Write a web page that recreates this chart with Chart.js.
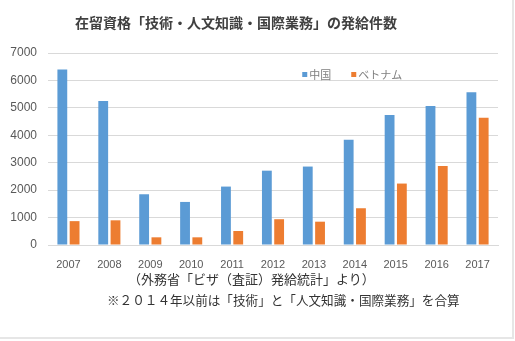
<!DOCTYPE html>
<html>
<head>
<meta charset="utf-8">
<script src="https://cdn.jsdelivr.net/npm/chart.js@4.4.0/dist/chart.umd.min.js"></script>
<style>
  html, body { margin: 0; padding: 0; background: #fff; }
  #wrap { position: relative; width: 515px; height: 341px; }
  #frame { position: absolute; left: 0; top: 0; width: 512px; height: 337px; border-right: 2px solid #e6e6e6; border-bottom: 2px solid #e6e6e6; }
  canvas { position: absolute; left: 0; top: 0; }
  .txt { position: absolute; white-space: nowrap; font-family: "Noto Sans CJK JP", sans-serif; color: #333; }
  #title { left: 75px; top: 12px; font-size: 14px; font-weight: bold; color: #404040; }
  #src { left: 128px; top: 269px; font-size: 13px; }
  #note { left: 107px; top: 290px; font-size: 12.6px; }
</style>
</head>
<body>
<div id="wrap">
  <div id="frame"></div>
  <canvas id="chart" width="515" height="341"></canvas>
  <div class="txt" id="title">在留資格「技術・人文知識・国際業務」の発給件数</div>
  <div class="txt" id="src">（外務省「ビザ（査証）発給統計」より）</div>
  <div class="txt" id="note">※２０１４年以前は「技術」と「人文知識・国際業務」を合算</div>
</div>
<script>
// years on the x axis
const years = ['2007', '2008', '2009', '2010', '2011', '2012', '2013', '2014', '2015', '2016', '2017'];
// issued visas
const china = [6400, 5250, 1850, 1570, 2130, 2710, 2860, 3840, 4740, 5070, 5570];
const vietnam = [870, 900, 280, 280, 510, 940, 850, 1340, 2240, 2880, 4640];
const seriesNames = ['中国', 'ベトナム'];
const seriesColors = ['#5B9BD5', '#ED7D31'];

// legend drawn inside the plot area, like the Excel original
const innerLegend = {
  id: 'innerLegend',
  afterDraw(chart) {
    const ctx = chart.ctx;
    const area = chart.chartArea;
    let x = area.left + (area.right - area.left) * 0.565;
    const y = area.top + 22;
    ctx.save();
    ctx.font = '11px "Noto Sans CJK JP", sans-serif';
    ctx.textBaseline = 'middle';
    seriesNames.forEach((name, i) => {
      ctx.fillStyle = seriesColors[i];
      ctx.fillRect(x, y - 3, 5, 5);
      ctx.fillStyle = '#7f7f7f';
      ctx.fillText(name, x + 7, y);
      x += 7 + ctx.measureText(name).width + 20;
    });
    ctx.restore();
  }
};

const ctx = document.getElementById('chart').getContext('2d');
new Chart(ctx, {
  type: 'bar',
  data: {
    labels: years,
    datasets: seriesNames.map((name, i) => ({
      label: name,
      data: i === 0 ? china : vietnam,
      backgroundColor: seriesColors[i],
      categoryPercentage: 0.6,
      barPercentage: 0.8
    }))
  },
  options: {
    responsive: false,
    animation: false,
    layout: { padding: { top: 53, left: 8, right: 17, bottom: 71 } },
    plugins: {
      legend: { display: false },
      title: { display: false },
      tooltip: { enabled: false }
    },
    scales: {
      x: {
        grid: { display: false },
        border: { color: '#d9d9d9' },
        ticks: { color: '#595959', font: { family: '"Liberation Sans", sans-serif', size: 11 }, padding: 5 },
        afterFit: (axis) => { axis.height = 25; }
      },
      y: {
        min: 0,
        max: 7000,
        ticks: {
          stepSize: 1000,
          color: '#595959',
          font: { family: '"Liberation Sans", sans-serif', size: 12 },
          padding: 11,
          callback: (v) => String(v)
        },
        grid: { color: '#d9d9d9', drawTicks: false },
        border: { display: false },
        afterFit: (axis) => { axis.width = 40; }
      }
    }
  },
  plugins: [innerLegend]
});
</script>
</body>
</html>
